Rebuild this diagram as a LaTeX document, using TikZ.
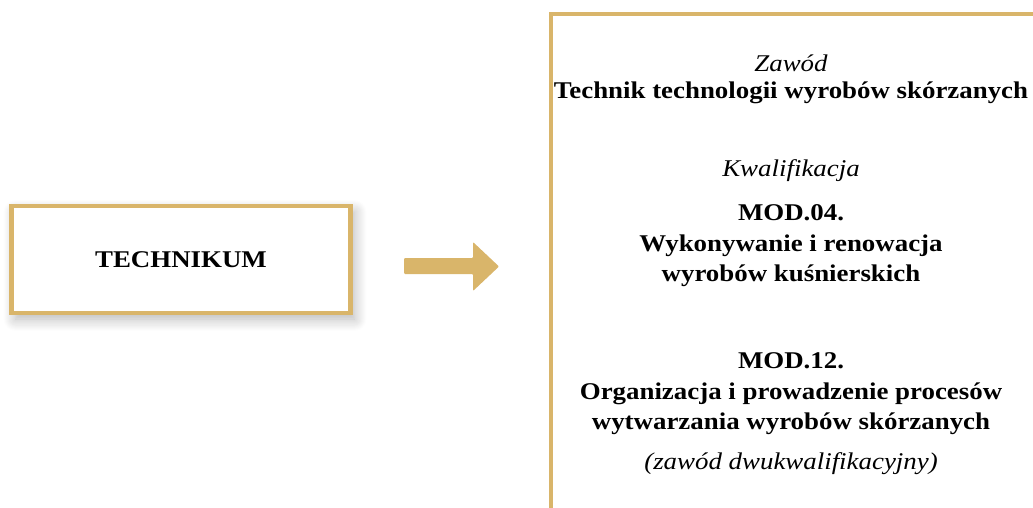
\documentclass[tikz,border=0pt]{standalone}
\usepackage{fontspec}
\setmainfont{Liberation Serif}[FakeStretch=1.12]
\usetikzlibrary{shadows.blur}
\definecolor{gold}{HTML}{D9B56A}
\tikzset{
  goldline/.style={draw=gold, line width=4.5pt},
  txt/.style={align=center, font=\fontsize{24}{30.5}\selectfont, inner sep=0pt},
}
\begin{document}
\begin{tikzpicture}[x=1pt,y=-1pt]
\useasboundingbox (0,0) rectangle (1033,508);
% left box
\node[goldline, fill=white, minimum width=339pt, minimum height=107pt, inner sep=0pt,
  blur shadow={shadow xshift=4pt, shadow yshift=-6pt, shadow blur radius=12pt, shadow blur steps=12, shadow opacity=30}]
  (tech) at (181,259.5) {};
\node[txt, font=\fontsize{24}{30}\selectfont\bfseries] (techt) at (tech) {TECHNIKUM};
% arrow
\fill[gold, rounded corners=1pt] (404,258) -- (473,258) -- (473,242) -- (499,266.5) -- (473,291) -- (473,274) -- (404,274) -- cycle;
\coordinate (arr) at (451,266.5);
% right box border
\draw[goldline] (551,508) -- (551,14) -- (1033,14);
% texts
\node[txt] (zaw) at (791,63) {\itshape Zawód};
\node[txt] (prof) at (791,93) {\bfseries Technik technologii wyrobów skórzanych};
\node[txt] (kwal) at (791,171) {\itshape Kwalifikacja};
\node[txt] (mod4) at (791,246) {\bfseries MOD.04.\\\bfseries Wykonywanie i renowacja\\\bfseries wyrobów kuśnierskich};
\node[txt] (mod12) at (791,394) {\bfseries MOD.12.\\\bfseries Organizacja i prowadzenie procesów\\\bfseries wytwarzania wyrobów skórzanych};
\node[txt] (dwu) at (791,464) {\itshape (zawód dwukwalifikacyjny)};
\end{tikzpicture}
\end{document}
